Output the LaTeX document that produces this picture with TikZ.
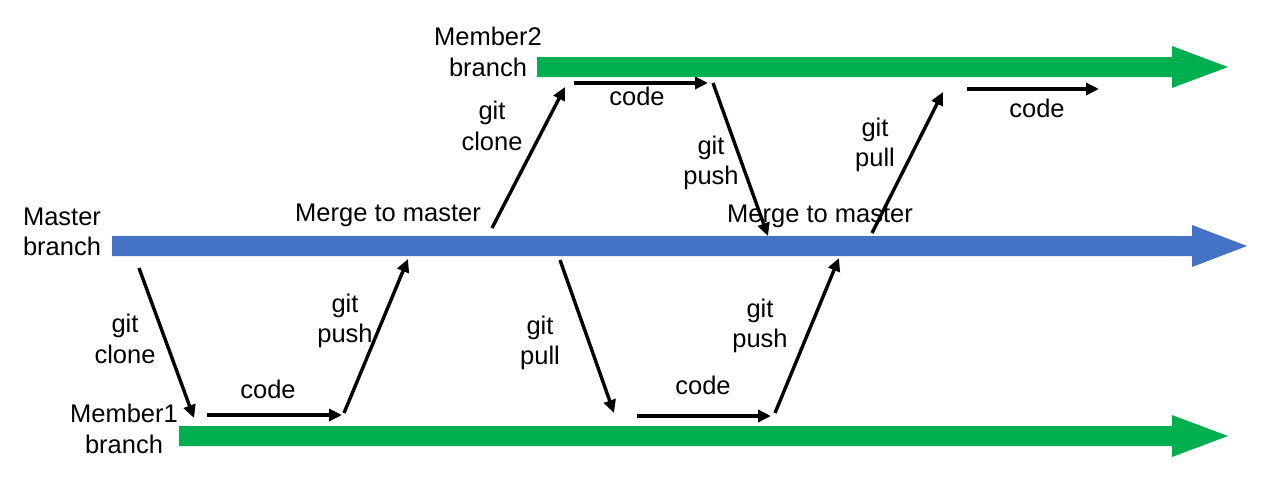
\documentclass[tikz,border=0pt]{standalone}
\usepackage{fontspec}
\setmainfont{Liberation Sans}
\usetikzlibrary{arrows.meta}
\definecolor{masterblue}{HTML}{4472C4}
\definecolor{membergreen}{HTML}{00B050}
\tikzset{
  lbl/.style={align=center, inner sep=0pt, font=\fontsize{25.5}{30.5}\selectfont},
  flow/.style={line width=3.4pt, -{Triangle[length=13pt,width=12pt]}},
}
\begin{document}
\begin{tikzpicture}[x=1pt,y=-1pt]
\useasboundingbox (0,0) rectangle (1276,498);
% branches
\fill[masterblue] (112,236) -- (1192,236) -- (1192,225) -- (1247,246) -- (1192,267) -- (1192,256) -- (112,256) -- cycle;
\fill[membergreen] (537,57) -- (1172,57) -- (1172,46) -- (1228,67) -- (1172,88) -- (1172,77) -- (537,77) -- cycle;
\fill[membergreen] (179,426) -- (1172,426) -- (1172,415) -- (1228,436) -- (1172,457) -- (1172,446) -- (179,446) -- cycle;
% branch labels
\node[lbl] (master) at (62,232) {Master\\branch};
\node[lbl] (m2) at (488,52) {Member2\\branch};
\node[lbl] (m1) at (124,429) {Member1\\branch};
% coordinates
\coordinate (a1) at (139,268); \coordinate (a2) at (194,418);
\coordinate (b1) at (207,415); \coordinate (b2) at (342,415);
\coordinate (c1) at (344,413); \coordinate (c2) at (408,259);
\coordinate (d1) at (492,228); \coordinate (d2) at (565,87);
\coordinate (e1) at (574,83);  \coordinate (e2) at (708,83);
\coordinate (f1) at (713,83);  \coordinate (f2) at (768,236);
\coordinate (g1) at (872,233); \coordinate (g2) at (943,92);
\coordinate (h1) at (967,89);  \coordinate (h2) at (1099,89);
\coordinate (i1) at (560,260); \coordinate (i2) at (614,413);
\coordinate (j1) at (637,416); \coordinate (j2) at (771,416);
\coordinate (k1) at (775,413); \coordinate (k2) at (839,258);
% connectors
\draw[flow] (a1) -- (a2);
\draw[flow] (b1) -- (b2);
\draw[flow] (c1) -- (c2);
\draw[flow] (d1) -- (d2);
\draw[flow] (e1) -- (e2);
\draw[flow] (f1) -- (f2);
\draw[flow] (g1) -- (g2);
\draw[flow] (h1) -- (h2);
\draw[flow] (i1) -- (i2);
\draw[flow] (j1) -- (j2);
\draw[flow] (k1) -- (k2);
% labels
\node[lbl] (t1) at (125,339) {git\\clone};
\node[lbl] (t2) at (268,389) {code};
\node[lbl] (t3) at (345,321) {git\\push};
\node[lbl] (t4) at (388,215) {Merge to master};
\node[lbl] (t5) at (492,126) {git\\clone};
\node[lbl] (t6) at (637,96) {code};
\node[lbl] (t7) at (711,163) {git\\push};
\node[lbl] (t8) at (820,216) {Merge to master};
\node[lbl] (t9) at (875,145) {git\\pull};
\node[lbl] (t10) at (1037,108) {code};
\node[lbl] (t11) at (540,343) {git\\pull};
\node[lbl] (t12) at (703,385) {code};
\node[lbl] (t13) at (760,326) {git\\push};
\end{tikzpicture}
\end{document}
